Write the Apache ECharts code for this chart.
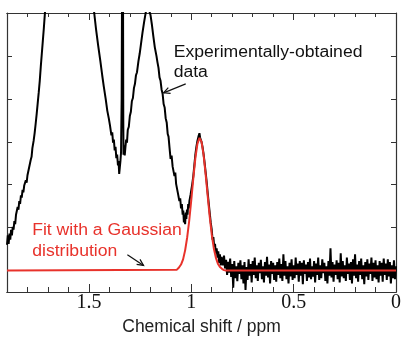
<!DOCTYPE html>
<html><head><meta charset="utf-8">
<script src="https://cdn.jsdelivr.net/npm/echarts@6/dist/echarts.min.js"></script>
<style>html,body{margin:0;padding:0;background:#fff}#c{width:401px;height:351px}</style>
</head><body><div id="c"></div>
<script>
// Experimental spectrum (ppm, intensity) for the resolved peaks region
const spectrumPeaks = [
 [1.900,0.60],[1.896,0.82],[1.892,0.62],[1.888,0.86],[1.884,0.72],[1.880,0.95],[1.876,0.82],[1.872,1.02],
 [1.868,0.95],[1.864,1.15],[1.860,1.08],[1.856,1.30],[1.852,1.28],[1.848,1.48],[1.844,1.42],[1.840,1.62],
 [1.836,1.55],[1.832,1.75],[1.828,1.70],[1.824,1.88],[1.820,1.82],[1.816,1.98],[1.812,1.95],[1.808,2.10],
 [1.804,2.05],[1.800,2.22],[1.796,2.25],[1.792,2.40],[1.788,2.42],[1.784,2.58],[1.780,2.65],[1.776,2.85],
 [1.770,3.02],[1.765,3.20],[1.760,3.42],[1.755,3.65],[1.750,3.90],[1.745,4.15],[1.740,4.42],[1.735,4.75],
 [1.730,5.05],[1.725,5.35],[1.720,5.65],[1.714,6.05],[1.700,6.9],[1.680,8.0],[1.650,9.4],[1.620,10.3],
 [1.590,10.6],[1.560,10.1],[1.530,8.9],[1.500,7.3],[1.474,6.00],[1.465,5.62],[1.455,5.25],[1.444,4.88],
 [1.435,4.55],[1.427,4.28],[1.418,4.00],[1.410,3.72],[1.403,3.55],[1.397,3.38],
 [1.395,3.35],[1.390,3.15],[1.386,3.22],[1.382,2.98],[1.378,3.05],[1.374,2.80],[1.370,2.88],[1.366,2.62],
 [1.362,2.70],[1.358,2.45],[1.355,2.55],[1.352,2.25],[1.349,2.40],[1.346,2.55],[1.343,2.75],
 [1.340,4.0],[1.337,8.0],[1.3355,10.0],[1.334,8.0],[1.332,3.5],
 [1.331,2.70],[1.328,2.92],[1.325,2.68],[1.322,2.85],[1.318,3.05],[1.314,2.98],[1.310,3.28],[1.305,3.35],
 [1.300,3.60],[1.295,3.70],[1.290,3.95],[1.285,4.02],[1.280,4.25],[1.275,4.35],[1.270,4.55],[1.265,4.62],
 [1.258,4.88],[1.252,5.05],[1.245,5.30],[1.238,5.55],[1.230,5.80],[1.222,6.02],[1.215,6.12],
 [1.205,6.05],[1.199,5.95],[1.192,5.72],[1.185,5.45],[1.178,5.20],[1.170,5.00],[1.165,4.85],[1.160,4.72],
 [1.155,4.50],[1.150,4.42],[1.145,4.22],[1.140,4.12],[1.135,3.88],[1.130,3.80],[1.125,3.55],[1.120,3.45],
 [1.115,3.18],[1.111,3.12],[1.106,2.85],[1.101,2.60],[1.096,2.68],[1.091,2.42],[1.086,2.45],[1.082,2.20],
 [1.078,2.28],[1.074,2.02],[1.070,2.05],[1.066,1.82],[1.062,1.86],[1.058,1.62],[1.054,1.68],[1.050,1.45],
 [1.046,1.55],[1.042,1.30],[1.039,1.40],[1.036,1.12],[1.033,1.30],[1.030,1.08],[1.027,1.35],[1.024,1.20],
 [1.021,1.42],[1.018,1.30],[1.015,1.55],[1.012,1.45],[1.009,1.62],[1.006,1.58],[1.003,1.78],[1.000,1.75],
 [0.995,2.02],[0.990,2.20],[0.985,2.45],[0.980,2.70],[0.975,2.88],[0.970,3.02],[0.965,3.12],[0.960,3.20],
 [0.957,3.10],[0.953,3.12],[0.950,3.00],[0.945,2.88],[0.940,2.72],[0.935,2.52],[0.930,2.30],[0.925,2.08],
 [0.920,1.82],[0.915,1.58],[0.910,1.35],[0.905,1.12],[0.900,0.95],[0.896,0.72],[0.892,0.78],[0.888,0.55],
 [0.884,0.62],[0.880,0.40],[0.876,0.52],[0.872,0.30],[0.868,0.45],[0.864,0.18],[0.860,0.38],[0.856,0.12],
 [0.852,0.32]
];
// Baseline noise, sampled every 0.005 ppm from 0.850 down to 0.000
const baselineStartPpm = 0.850;
const baselineStepPpm = 0.005;
const baselineNoise = [
 0.30,0.12,0.35,0.05,0.25,-0.10,0.20,-0.05,0.28,-0.15,
 0.15,-0.40,0.22,-0.18,0.10,-0.25,0.18,-0.08,0.24,-0.20,
 0.12,-0.30,0.20,-0.45,0.08,-0.22,0.26,-0.12,0.15,-0.28,
 0.22,-0.10,0.30,-0.18,0.12,-0.24,0.18,-0.06,0.25,-0.20,
 0.10,-0.28,0.20,-0.12,0.32,-0.16,0.14,-0.30,0.22,-0.08,
 0.18,-0.22,0.12,-0.26,0.20,-0.10,0.28,-0.18,0.15,-0.24,
 0.38,-0.12,0.22,-0.20,0.10,-0.30,0.18,-0.14,0.26,-0.22,
 0.12,-0.18,0.30,-0.10,0.16,-0.26,0.22,-0.12,0.18,-0.32,
 0.24,-0.08,0.14,-0.24,0.20,-0.16,0.28,-0.20,0.10,-0.14,
 0.22,-0.28,0.16,-0.10,0.30,-0.22,0.12,-0.18,0.26,-0.06,
 0.18,-0.24,0.10,-0.30,0.22,-0.12,0.52,-0.16,0.20,-0.26,
 0.14,-0.10,0.24,-0.20,0.18,-0.28,0.40,-0.14,0.22,-0.18,
 0.12,-0.24,0.30,-0.08,0.16,-0.22,0.20,-0.30,0.26,-0.12,
 0.38,-0.18,0.14,-0.26,0.22,-0.10,0.28,-0.20,0.12,-0.32,
 0.20,-0.14,0.26,-0.22,0.16,-0.08,0.30,-0.24,0.18,-0.16,
 0.24,-0.20,0.12,-0.28,0.22,-0.12,0.18,-0.26,0.28,-0.10,
 0.16,-0.22,0.26,-0.14,0.20,-0.30,0.12,-0.18,0.24,-0.20,
 0.10
];
// Gaussian fit (ppm, intensity)
const gaussianFit = [
 [1.90,0],[1.07,0.02],[1.06,0.07],[1.05,0.14],[1.04,0.26],[1.03,0.47],[1.02,0.77],[1.01,1.16],
 [1.00,1.64],[0.99,2.15],[0.98,2.62],[0.97,2.95],[0.96,3.09],[0.95,3.00],[0.94,2.70],[0.93,2.25],
 [0.92,1.75],[0.91,1.26],[0.90,0.84],[0.89,0.52],[0.88,0.30],[0.87,0.16],[0.86,0.08],[0.85,0.04],
 [0.84,0.01],[0.83,0],[0.00,0]
];
const yTickValues = [0,1,2,3,4,5];
// Annotation anchors in data coordinates [ppm, intensity]
const labelExp = {lines:['Experimentally-obtained','data'], at:[[1.086,5.07],[1.086,4.60]], arrow:[[1.027,4.35],[1.135,4.14]]};
const labelFit = {lines:['Fit with a Gaussian','distribution'], at:[[1.777,0.93],[1.777,0.44]], arrow:[[1.312,0.37],[1.233,0.12]]};

const spectrum = spectrumPeaks.concat(baselineNoise.map((v,i)=>[+(baselineStartPpm - i*baselineStepPpm).toFixed(3), v]));

const chart = echarts.init(document.getElementById('c'), null, {renderer:'canvas'});
const axisCol = '#333';
const xBase = {type:'value', min:0, max:1.9, inverse:true, splitLine:{show:false},
  axisLine:{show:true, onZero:false, lineStyle:{color:axisCol, width:1.2}}};
chart.setOption({
  animation:false,
  backgroundColor:'#fff',
  grid:{left:7, right:5, top:13, bottom:59, containLabel:false, outerBoundsMode:'none'},
  xAxis:[
    Object.assign({}, xBase, {position:'bottom', interval:0.5,
      axisTick:{show:true, inside:true, length:8, lineStyle:{color:axisCol, width:1}},
      axisLabel:{show:true, showMaxLabel:false, fontFamily:'"Liberation Serif","Times New Roman",serif', fontSize:20, color:'#111', margin:1},
      name:'Chemical shift / ppm', nameLocation:'middle', nameGap:24,
      nameTextStyle:{fontFamily:'"Liberation Sans",Arial,sans-serif', fontSize:17.5, color:'#222'}}),
    Object.assign({}, xBase, {position:'bottom', interval:0.1,
      axisTick:{show:true, inside:true, length:5, lineStyle:{color:axisCol, width:1}}, axisLabel:{show:false}}),
    Object.assign({}, xBase, {position:'top', interval:0.5,
      axisTick:{show:true, inside:true, length:7, lineStyle:{color:axisCol, width:1}}, axisLabel:{show:false}}),
    Object.assign({}, xBase, {position:'top', interval:0.1,
      axisTick:{show:true, inside:true, length:4, lineStyle:{color:axisCol, width:1}}, axisLabel:{show:false}})
  ],
  yAxis:[
    {type:'value', position:'left', min:-0.5, max:6, splitLine:{show:false},
     axisLine:{show:true, onZero:false, lineStyle:{color:axisCol, width:1.2}},
     axisTick:{show:true, inside:true, length:5, customValues:yTickValues, lineStyle:{color:axisCol}},
     axisLabel:{show:false}},
    {type:'value', position:'right', min:-0.5, max:6, splitLine:{show:false},
     axisLine:{show:true, onZero:false, lineStyle:{color:axisCol, width:1.2}},
     axisTick:{show:true, inside:true, length:5, customValues:yTickValues, lineStyle:{color:axisCol}},
     axisLabel:{show:false}}
  ],
  series:[
    {type:'line', xAxisIndex:0, yAxisIndex:0, data:spectrum, showSymbol:false, clip:true,
     lineStyle:{color:'#000', width:2}, z:2},
    {type:'line', xAxisIndex:0, yAxisIndex:0, data:gaussianFit, showSymbol:false, clip:true,
     lineStyle:{color:'#e8322b', width:2}, z:3}
  ]
});

function px(p){ return chart.convertToPixel({xAxisIndex:0, yAxisIndex:0}, p); }
function arrowEls(tailD, tipD, color){
  const t = px(tailD), h = px(tipD);
  const ang = Math.atan2(t[1]-h[1], t[0]-h[0]);
  const L = 7, A = 0.45;
  const a1 = [h[0]+L*Math.cos(ang+A), h[1]+L*Math.sin(ang+A)];
  const a2 = [h[0]+L*Math.cos(ang-A), h[1]+L*Math.sin(ang-A)];
  return [
    {type:'line', shape:{x1:t[0],y1:t[1],x2:h[0],y2:h[1]}, style:{stroke:color, lineWidth:1.2}, z:10},
    {type:'polyline', shape:{points:[a1,h,a2]}, style:{stroke:color, lineWidth:1.2, fill:null}, z:10}
  ];
}
function textEls(lbl, color){
  return lbl.lines.map((s,i)=>{
    const p = px(lbl.at[i]);
    return {type:'text', x:p[0], y:p[1], scaleX:1.1, z:10,
      style:{text:s, x:0, y:0, fill:color, font:'16px "Liberation Sans", Arial, sans-serif', verticalAlign:'middle', align:'left'}};
  });
}
chart.setOption({graphic:{elements:[]
  .concat(textEls(labelExp,'#111'), arrowEls(labelExp.arrow[0], labelExp.arrow[1], '#111'))
  .concat(textEls(labelFit,'#e8322b'), arrowEls(labelFit.arrow[0], labelFit.arrow[1], '#111'))
}});
</script></body></html>
